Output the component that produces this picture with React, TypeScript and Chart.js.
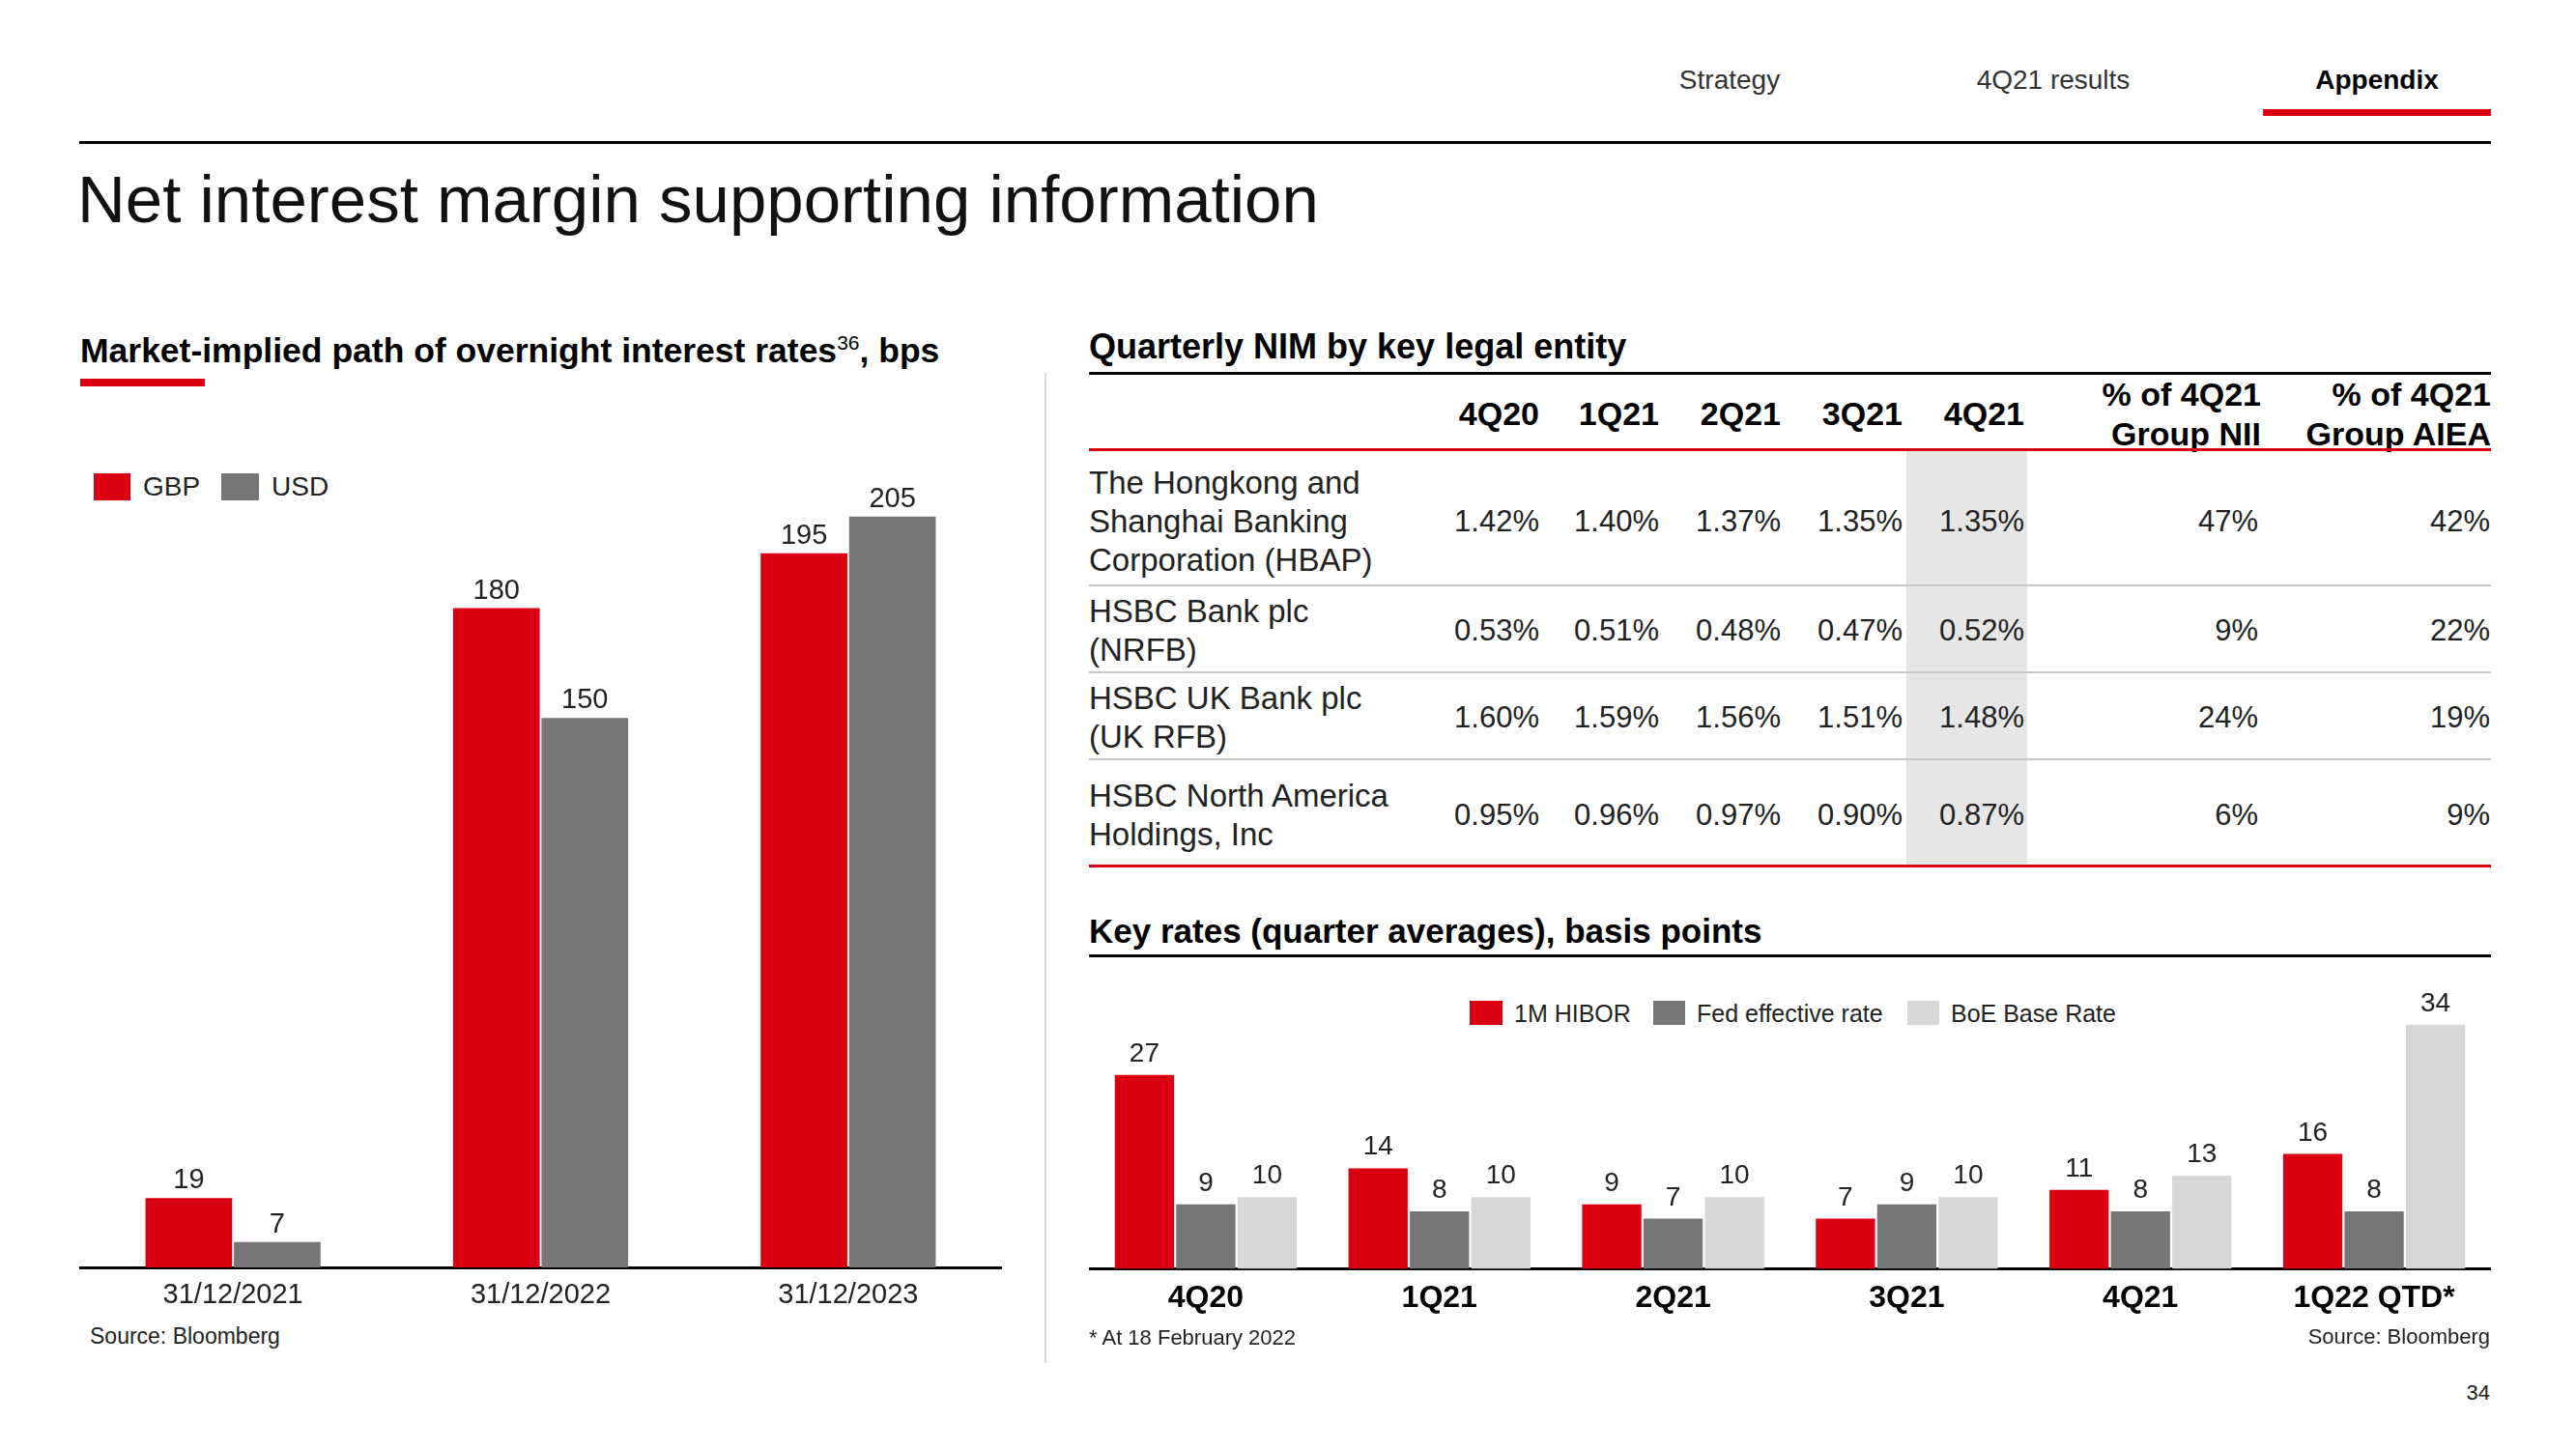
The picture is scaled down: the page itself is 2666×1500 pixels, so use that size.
import React, { useEffect, useRef } from "react";
import { Chart, registerables } from "chart.js";

Chart.register(...registerables);

const RED = "#DB0011";
const DARK = "#767676";
const LIGHT = "#D7D7D7";
const FONT = "'Liberation Sans', Arial, Helvetica, sans-serif";

// ---- Market-implied path chart ----
const pathCategories = ["31/12/2021", "31/12/2022", "31/12/2023"];
const gbpValues = [19, 180, 195];
const usdValues = [7, 150, 205];

// ---- Key rates chart ----
const rateCategories = ["4Q20", "1Q21", "2Q21", "3Q21", "4Q21", "1Q22 QTD*"];
const hiborValues = [27, 14, 9, 7, 11, 16];
const fedValues = [9, 8, 7, 9, 8, 8];
const boeValues = [10, 10, 10, 10, 13, 34];

// ---- Quarterly NIM table ----
const nimQuarters = ["4Q20", "1Q21", "2Q21", "3Q21", "4Q21"];
const nimEntities = [
  ["The Hongkong and", "Shanghai Banking", "Corporation (HBAP)"],
  ["HSBC Bank plc", "(NRFB)"],
  ["HSBC UK Bank plc", "(UK RFB)"],
  ["HSBC North America", "Holdings, Inc"],
];
const nimValues = [
  ["1.42%", "1.40%", "1.37%", "1.35%", "1.35%"],
  ["0.53%", "0.51%", "0.48%", "0.47%", "0.52%"],
  ["1.60%", "1.59%", "1.56%", "1.51%", "1.48%"],
  ["0.95%", "0.96%", "0.97%", "0.90%", "0.87%"],
];
const niiShare = ["47%", "9%", "24%", "6%"];
const aieaShare = ["42%", "22%", "19%", "9%"];

const valueLabels = {
  id: "valueLabels",
  afterDatasetsDraw(chart: any, _args: any, opts: any) {
    const ctx = chart.ctx;
    ctx.save();
    ctx.font = `${opts.size}px ${FONT}`;
    ctx.fillStyle = opts.color || "#222";
    ctx.textAlign = "center";
    ctx.textBaseline = "alphabetic";
    chart.data.datasets.forEach((ds: any, i: number) => {
      const meta = chart.getDatasetMeta(i);
      meta.data.forEach((el: any, j: number) => {
        ctx.fillText(String(ds.data[j]), el.x, el.y - opts.offset);
      });
    });
    ctx.restore();
  },
};

type DS = { label: string; data: number[]; color: string };

function BarChart(props: {
  left: number; top: number; width: number; height: number;
  labels: string[]; datasets: DS[]; max: number;
  tickSize: number; tickWeight: string; tickColor: string; tickPadding: number;
  labelSize: number; labelOffset: number; catPct: number; barPct: number;
}) {
  const ref = useRef<HTMLCanvasElement>(null);
  useEffect(() => {
    const chart = new Chart(ref.current as HTMLCanvasElement, {
      type: "bar",
      data: {
        labels: props.labels,
        datasets: props.datasets.map((d) => ({
          label: d.label,
          data: d.data,
          backgroundColor: d.color,
          borderWidth: 0,
          categoryPercentage: props.catPct,
          barPercentage: props.barPct,
        })),
      },
      options: {
        animation: false,
        responsive: false,
        maintainAspectRatio: false,
        layout: { padding: 0 },
        plugins: {
          legend: { display: false },
          tooltip: { enabled: false },
          valueLabels: { size: props.labelSize, offset: props.labelOffset, color: "#222" },
        } as any,
        scales: {
          x: {
            z: 1,
            grid: { display: false, drawTicks: false },
            border: { display: true, color: "#000", width: 3 },
            ticks: {
              color: props.tickColor,
              font: { family: FONT, size: props.tickSize, weight: props.tickWeight as any },
              padding: props.tickPadding,
              maxRotation: 0,
              autoSkip: false,
            },
          },
          y: { display: false, min: 0, max: props.max },
        },
      },
      plugins: [valueLabels as any],
    });
    return () => chart.destroy();
  }, []);
  return (
    <canvas
      ref={ref}
      width={props.width}
      height={props.height}
      style={{ position: "absolute", left: props.left, top: props.top, width: props.width, height: props.height }}
    />
  );
}

function Txt(p: { x: number; y: number; size: number; weight?: number; align?: string; color?: string; children: any }) {
  const tx = p.align === "center" ? "-50%" : p.align === "right" ? "-100%" : "0";
  return (
    <div
      style={{
        position: "absolute",
        left: p.x,
        top: p.y,
        transform: `translate(${tx}, -50%)`,
        fontSize: p.size,
        fontWeight: p.weight || 400,
        lineHeight: 1.2,
        color: p.color || "#222",
        whiteSpace: "nowrap",
        fontFamily: FONT,
      }}
    >
      {p.children}
    </div>
  );
}

function Rect(p: { x: number; y: number; w: number; h: number; c: string }) {
  return <div style={{ position: "absolute", left: p.x, top: p.y, width: p.w, height: p.h, background: p.c }} />;
}

export default function App() {
  useEffect(() => {
    document.body.style.margin = "0";
  }, []);

  const colRight = [1593, 1717, 1843, 1969, 2095];
  const rowCenters = [540, 653, 743, 844];

  return (
    <div style={{ position: "absolute", left: 0, top: 0, width: 2666, height: 1500, overflow: "hidden", background: "#fff", fontFamily: FONT }}>
      {/* Header navigation */}
      <Txt x={1790} y={83} size={28} align="center" color="#333">Strategy</Txt>
      <Txt x={2125} y={83} size={28} align="center" color="#333">4Q21 results</Txt>
      <Txt x={2460} y={83} size={28} align="center" weight={700} color="#000">Appendix</Txt>
      <Rect x={2342} y={113} w={236} h={7} c={RED} />
      <Rect x={82} y={146} w={2496} h={3} c="#000" />
      <Txt x={80} y={207} size={69} color="#111">Net interest margin supporting information</Txt>

      {/* Left panel */}
      <Txt x={83} y={363} size={35.5} weight={700} color="#000">
        Market-implied path of overnight interest rates
        <span style={{ fontSize: 21, fontWeight: 400, position: "relative", top: -13 }}>36</span>, bps
      </Txt>
      <Rect x={83} y={392} w={129} h={8} c={RED} />
      <Rect x={97} y={490} w={38} h={28} c={RED} />
      <Txt x={148} y={504} size={28}>GBP</Txt>
      <Rect x={229} y={490} w={39} h={28} c={DARK} />
      <Txt x={281} y={504} size={28}>USD</Txt>
      <BarChart
        left={82} top={421} width={955} height={948}
        labels={pathCategories}
        datasets={[
          { label: "GBP", data: gbpValues, color: RED },
          { label: "USD", data: usdValues, color: DARK },
        ]}
        max={235}
        tickSize={29} tickWeight="normal" tickColor="#222" tickPadding={11}
        labelSize={29} labelOffset={10} catPct={0.575} barPct={0.98}
      />
      <Txt x={93} y={1384} size={23}>Source: Bloomberg</Txt>

      {/* Divider */}
      <Rect x={1081} y={386} w={2} h={1025} c="#d9d9d9" />

      {/* NIM table */}
      <Txt x={1127} y={359} size={36} weight={700} color="#000">Quarterly NIM by key legal entity</Txt>
      <Rect x={1127} y={385} w={1451} h={3} c="#000" />
      <Rect x={1973} y={467} w={125} h={429} c="#e6e6e6" />
      {nimQuarters.map((q, i) => (
        <Txt key={q} x={colRight[i]} y={428} size={34} weight={700} align="right" color="#000">{q}</Txt>
      ))}
      <Txt x={2340} y={408} size={34} weight={700} align="right" color="#000">% of 4Q21</Txt>
      <Txt x={2340} y={449} size={34} weight={700} align="right" color="#000">Group NII</Txt>
      <Txt x={2578} y={408} size={34} weight={700} align="right" color="#000">% of 4Q21</Txt>
      <Txt x={2578} y={449} size={34} weight={700} align="right" color="#000">Group AIEA</Txt>
      <Rect x={1127} y={464} w={1451} h={3} c={RED} />
      {[605, 695, 785].map((y) => (
        <Rect key={y} x={1127} y={y} w={1451} h={2} c="#c8c8c8" />
      ))}
      <Rect x={1127} y={895} w={1451} h={3} c={RED} />
      {nimEntities.map((lines, r) => (
        <React.Fragment key={r}>
          {lines.map((ln, k) => (
            <Txt key={k} x={1127} y={rowCenters[r] - (lines.length - 1) * 20 + k * 40} size={33}>{ln}</Txt>
          ))}
          {nimValues[r].map((v, c) => (
            <Txt key={"v" + c} x={colRight[c]} y={rowCenters[r]} size={31} align="right">{v}</Txt>
          ))}
          <Txt x={2337} y={rowCenters[r]} size={31} align="right">{niiShare[r]}</Txt>
          <Txt x={2577} y={rowCenters[r]} size={31} align="right">{aieaShare[r]}</Txt>
        </React.Fragment>
      ))}

      {/* Key rates */}
      <Txt x={1127} y={964} size={35} weight={700} color="#000">Key rates (quarter averages), basis points</Txt>
      <Rect x={1127} y={988} w={1451} h={3} c="#000" />
      <Rect x={1521} y={1036} w={34} h={25} c={RED} />
      <Txt x={1567} y={1049} size={25}>1M HIBOR</Txt>
      <Rect x={1711} y={1036} w={33} h={25} c={DARK} />
      <Txt x={1756} y={1049} size={25}>Fed effective rate</Txt>
      <Rect x={1974} y={1036} w={33} h={25} c={LIGHT} />
      <Txt x={2019} y={1049} size={25}>BoE Base Rate</Txt>
      <BarChart
        left={1127} top={1016} width={1451} height={358}
        labels={rateCategories}
        datasets={[
          { label: "1M HIBOR", data: hiborValues, color: RED },
          { label: "Fed effective rate", data: fedValues, color: DARK },
          { label: "BoE Base Rate", data: boeValues, color: LIGHT },
        ]}
        max={40}
        tickSize={32} tickWeight="bold" tickColor="#000" tickPadding={11}
        labelSize={28} labelOffset={14} catPct={0.788} barPct={0.965}
      />
      <Txt x={1127} y={1385} size={22}>* At 18 February 2022</Txt>
      <Txt x={2577} y={1384} size={22} align="right">Source: Bloomberg</Txt>
      <Txt x={2577} y={1442} size={22} align="right">34</Txt>
    </div>
  );
}
